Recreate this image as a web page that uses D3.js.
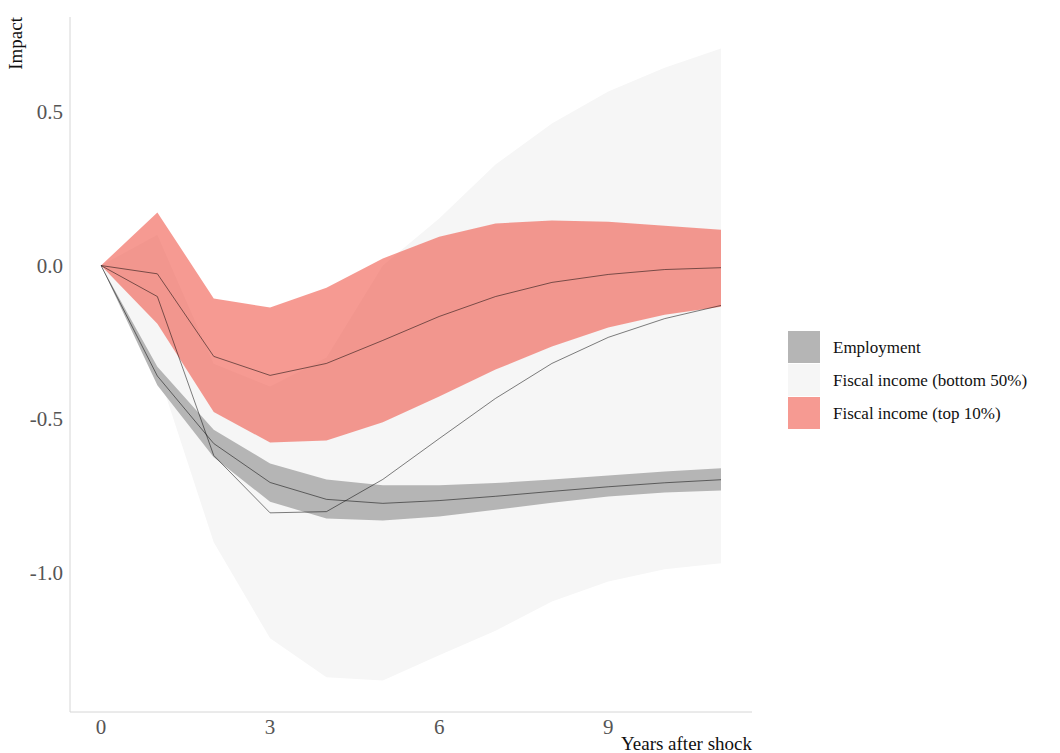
<!DOCTYPE html>
<html>
<head>
<meta charset="utf-8">
<script src="https://cdn.jsdelivr.net/npm/d3@7"></script>
<style>
  body { margin: 0; background: #fff; }
  svg { font-family: "Liberation Serif", "DejaVu Serif", serif; }
</style>
</head>
<body>
<svg id="svg" width="1060" height="753"></svg>
<script>
// years after shock
const years = [0, 1, 2, 3, 4, 5, 6, 7, 8, 9, 10, 11];

// Employment
const empMean  = [0, -0.36, -0.58, -0.707, -0.762, -0.775, -0.766, -0.752, -0.736, -0.721, -0.708, -0.698];
const empLow   = [0, -0.39, -0.625, -0.77, -0.824, -0.831, -0.818, -0.796, -0.773, -0.753, -0.740, -0.733];
const empHigh  = [0, -0.33, -0.535, -0.645, -0.697, -0.716, -0.716, -0.709, -0.697, -0.684, -0.671, -0.661];

// Fiscal income (bottom 50%)
const botMean  = [0, -0.101, -0.619, -0.806, -0.802, -0.697, -0.564, -0.433, -0.319, -0.234, -0.173, -0.130];
const botLow   = [0, -0.34, -0.902, -1.215, -1.342, -1.352, -1.27, -1.19, -1.095, -1.03, -0.99, -0.97];
const botHigh  = [0, 0.10, -0.32, -0.394, -0.30, 0.0, 0.153, 0.329, 0.463, 0.567, 0.645, 0.707];

// Fiscal income (top 10%)
const topMean  = [0, -0.027, -0.296, -0.358, -0.319, -0.244, -0.166, -0.101, -0.055, -0.029, -0.013, -0.007];
const topLow   = [0, -0.19, -0.477, -0.577, -0.570, -0.511, -0.427, -0.339, -0.264, -0.202, -0.160, -0.134];
const topHigh  = [0, 0.173, -0.107, -0.137, -0.072, 0.023, 0.094, 0.137, 0.147, 0.143, 0.130, 0.117];

const xTicks = [0, 3, 6, 9];
const yTicks = [0.5, 0.0, -0.5, -1.0];

const seriesNames = ["Employment", "Fiscal income (bottom 50%)", "Fiscal income (top 10%)"];
const seriesFills = ["#b5b5b5", "#f6f6f6", "rgba(240,87,73,0.6)"];

const series = [
  {name: seriesNames[0], mean: empMean, low: empLow, high: empHigh, fill: seriesFills[0]},
  {name: seriesNames[1], mean: botMean, low: botLow, high: botHigh, fill: seriesFills[1]},
  {name: seriesNames[2], mean: topMean, low: topLow, high: topHigh, fill: seriesFills[2]}
];

const margin = {left: 70, right: 308, top: 17, bottom: 41};
const width = 1060, height = 753;

const x = d3.scaleLinear().domain([-0.55, 11.55]).range([margin.left, width - margin.right]);
const y = d3.scaleLinear().domain([-1.455, 0.81]).range([height - margin.bottom, margin.top]);

const svg = d3.select("#svg");

// bands, light grey first so the darker employment band sits on top
const drawOrder = [1, 0, 2];
const area = d3.area()
  .x((d, i) => x(years[i]))
  .y0(d => y(d[0]))
  .y1(d => y(d[1]));

drawOrder.forEach(k => {
  const s = series[k];
  svg.append("path")
    .datum(years.map((_, i) => [s.low[i], s.high[i]]))
    .attr("fill", s.fill)
    .attr("d", area);
});

const line = d3.line()
  .x((d, i) => x(years[i]))
  .y(d => y(d));

series.forEach(s => {
  svg.append("path")
    .datum(s.mean)
    .attr("fill", "none")
    .attr("stroke", "rgba(0,0,0,0.5)")
    .attr("stroke-width", 1)
    .attr("d", line);
});

// axis lines
svg.append("line")
  .attr("x1", margin.left).attr("x2", margin.left)
  .attr("y1", margin.top).attr("y2", height - margin.bottom)
  .attr("stroke", "#d6d6d6").attr("stroke-width", 1);
svg.append("line")
  .attr("x1", margin.left).attr("x2", width - margin.right)
  .attr("y1", height - margin.bottom).attr("y2", height - margin.bottom)
  .attr("stroke", "#d6d6d6").attr("stroke-width", 1);

// tick labels
svg.append("g")
  .selectAll("text")
  .data(yTicks)
  .join("text")
  .attr("x", margin.left - 7)
  .attr("y", d => y(d))
  .attr("dy", "0.35em")
  .attr("text-anchor", "end")
  .attr("font-size", 21)
  .attr("fill", "#555")
  .text(d => d3.format(".1f")(d).replace("−", "-"));

svg.append("g")
  .selectAll("text")
  .data(xTicks)
  .join("text")
  .attr("x", d => x(d))
  .attr("y", height - margin.bottom + 22)
  .attr("text-anchor", "middle")
  .attr("font-size", 21)
  .attr("fill", "#555")
  .text(d => d);

// axis titles
svg.append("text")
  .attr("transform", `translate(22, ${margin.top}) rotate(-90)`)
  .attr("text-anchor", "end")
  .attr("font-size", 19)
  .attr("fill", "#111")
  .text("Impact");

svg.append("text")
  .attr("x", width - margin.right)
  .attr("y", 750)
  .attr("text-anchor", "end")
  .attr("font-size", 19)
  .attr("fill", "#111")
  .text("Years after shock");

// legend
const legend = svg.append("g").attr("transform", "translate(788, 331)");
const keySize = 33;
legend.selectAll("rect")
  .data(series)
  .join("rect")
  .attr("x", 0)
  .attr("y", (d, i) => i * keySize)
  .attr("width", 32)
  .attr("height", keySize - 1)
  .attr("fill", d => d.fill);

legend.selectAll("text")
  .data(series)
  .join("text")
  .attr("x", 45)
  .attr("y", (d, i) => i * keySize + keySize / 2)
  .attr("dy", "0.35em")
  .attr("font-size", 17)
  .attr("fill", "#111")
  .text(d => d.name);
</script>
</body>
</html>
